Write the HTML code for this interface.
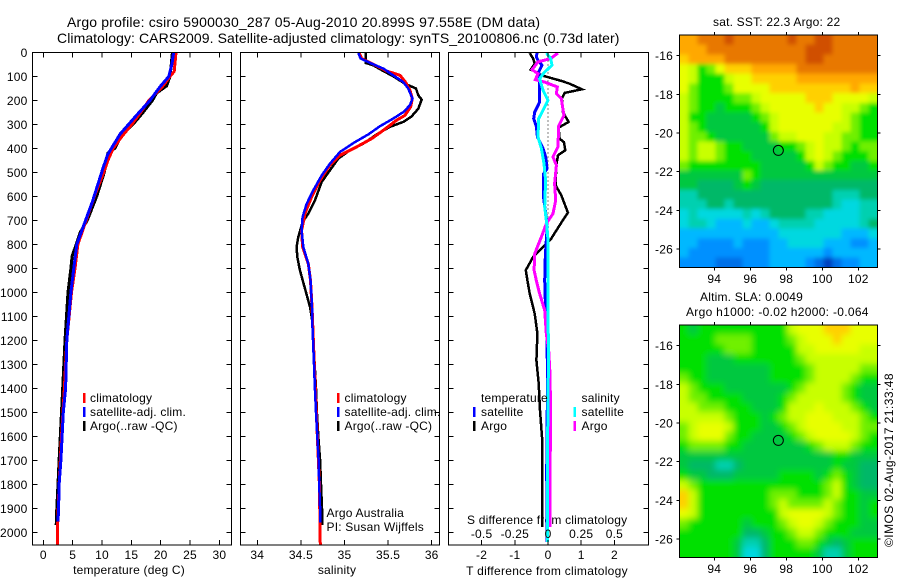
<!DOCTYPE html>
<html>
<head>
<meta charset="utf-8">
<title>Argo profile csiro 5900030_287</title>
<style>
html,body{margin:0;padding:0;background:#fff}
svg{display:block}
text{font-family:"Liberation Sans",sans-serif;font-size:12px;fill:#000;letter-spacing:.2px}
</style>
</head>
<body>
<svg id="chart" width="900" height="580" viewBox="0 0 900 580" xmlns="http://www.w3.org/2000/svg">
<defs>
<clipPath id="clip-sst"><rect x="679.3" y="35" width="198" height="232.3"/></clipPath>
<clipPath id="clip-sla"><rect x="679.3" y="325" width="198" height="232.3"/></clipPath>
<filter id="blur-sst" filterUnits="userSpaceOnUse" x="640" y="0" width="260" height="300"><feGaussianBlur stdDeviation="2"/></filter>
<filter id="blur-sla" filterUnits="userSpaceOnUse" x="640" y="290" width="260" height="300"><feGaussianBlur stdDeviation="3.2"/></filter>
</defs>
<text x="67" y="27" style="font-size:14px;letter-spacing:.17px">Argo profile: csiro 5900030_287 05-Aug-2010 20.899S 97.558E (DM data)</text>
<text x="57" y="43" style="font-size:14px;letter-spacing:.08px">Climatology: CARS2009. Satellite-adjusted climatology: synTS_20100806.nc (0.73d later)</text>

<text x="129" y="574" text-anchor="middle">temperature (deg C)</text>
<text x="337" y="574" text-anchor="middle">salinity</text>
<text x="547" y="575" text-anchor="middle" style="letter-spacing:.28px">T difference from climatology</text>
<text x="467" y="524">S difference from climatology</text>

<text x="713" y="26">sat. SST: 22.3 Argo: 22</text>
<text x="700" y="301">Altim. SLA: 0.0049</text>
<text x="686" y="316" style="letter-spacing:.3px">Argo h1000: -0.02 h2000: -0.064</text>
<text transform="translate(893,547) rotate(-90)" style="letter-spacing:.45px">©IMOS 02-Aug-2017 21:33:48</text>

<g id="layer"></g>

<g>
<rect x="83" y="393" width="2.5" height="10" fill="#ff0000"/><text x="90" y="402">climatology</text>
<rect x="83" y="407" width="2.5" height="10" fill="#0000ff"/><text x="90" y="416">satellite-adj. clim.</text>
<rect x="83" y="421" width="2.5" height="10" fill="#000000"/><text x="90" y="430">Argo(..raw -QC)</text>
</g>
<g>
<rect x="337" y="393" width="2.5" height="10" fill="#ff0000"/><text x="344.5" y="402">climatology</text>
<rect x="337" y="407" width="2.5" height="10" fill="#0000ff"/><text x="344.5" y="416">satellite-adj. clim.</text>
<rect x="337" y="421" width="2.5" height="10" fill="#000000"/><text x="344.5" y="430">Argo(..raw -QC)</text>
<text x="326.5" y="517">Argo Australia</text>
<text x="326.5" y="531">PI: Susan Wijffels</text>
</g>
<g>
<text x="481" y="402">temperature</text>
<rect x="473" y="407" width="2.5" height="10" fill="#0000ff"/><text x="481" y="416">satellite</text>
<rect x="473" y="421" width="2.5" height="10" fill="#000000"/><text x="481" y="430">Argo</text>
<text x="581.5" y="402">salinity</text>
<rect x="573.5" y="407" width="2.5" height="10" fill="#00ffff"/><text x="581.5" y="416">satellite</text>
<rect x="573.5" y="421" width="2.5" height="10" fill="#ff00ff"/><text x="581.5" y="430">Argo</text>
</g>
</svg>

<script>
// ---- profile data (depth in m, temperature in deg C, salinity in psu) ----
const tempBlueDepth = [0,50,100,143,200,270,340,424,480,550,620,700,800,900,1000,1200,1400,1500,1600,1700,1800,1900,1955];
const tempBlueValue = [22.2,21.9,21.4,19.9,18.2,15.6,13.1,11.0,10.2,9.3,8.4,7.2,5.7,5.2,4.7,4.0,3.8,3.4,3.2,3.0,2.7,2.6,2.5];
const tempRedDepth = [0,80,100,140,200,250,300,350,400,450,500,600,700,800,900,1000,1200,1400,1600,1800,2000,2055];
const tempRedValue = [22.6,22.3,21.6,20.4,18.0,16.6,15.1,13.4,11.9,11.0,10.3,8.7,7.3,5.9,5.4,4.8,4.0,3.6,3.1,2.7,2.4,2.4];
const tempArgoDepth = [0,50,100,140,170,200,250,300,350,400,420,500,600,700,750,800,850,900,1000,1200,1400,1500,1600,1700,1800,1900,1970];
const tempArgoValue = [22.0,21.8,21.6,21.0,19.3,18.6,17.0,15.3,13.2,12.2,11.0,10.4,9.1,7.5,6.3,5.6,4.9,4.7,4.2,3.7,3.3,3.1,2.9,2.7,2.5,2.3,2.2];

const salBlueDepth = [3,26,47,68,96,124,151,193,221,249,276,308,342,374,415,464,513,575,631,686,742,811,881,950,1061,1117,1300,1400,1500,1600,1700,1800,1900,1960];
const salBlueValue = [35.158,35.185,35.311,35.445,35.56,35.674,35.73,35.78,35.75,35.674,35.56,35.407,35.273,35.12,34.948,34.833,34.738,34.642,34.566,34.52,34.508,34.528,34.585,34.61,34.627,34.63,34.65,34.661,34.673,34.688,34.703,34.71,34.72,34.722];
const salRedDepth = [3,26,50,78,96,124,158,193,228,263,283,325,360,394,429,471,533,603,672,742,811,881,950,1061,1400,1800,2055];
const salRedValue = [35.17,35.196,35.33,35.483,35.636,35.70,35.75,35.778,35.758,35.693,35.598,35.445,35.311,35.139,34.948,34.833,34.719,34.623,34.547,34.508,34.52,34.585,34.61,34.627,34.665,34.712,34.722];
const salArgoDepth = [3,44,54,78,100,131,151,179,197,235,267,290,311,342,381,408,443,492,540,617,672,707,769,811,853,908,985,1061,1117,1400,1500,1600,1700,1800,1900,1970];
const salArgoValue = [35.242,35.242,35.33,35.445,35.56,35.693,35.82,35.846,35.885,35.846,35.77,35.674,35.52,35.368,35.216,35.063,34.929,34.833,34.738,34.661,34.585,34.52,34.47,34.451,34.459,34.489,34.547,34.604,34.63,34.673,34.684,34.70,34.72,34.73,34.742,34.742];

const dTArgoDepth = [3,26,47,72,82,96,119,131,154,169,193,249,290,314,360,374,408,429,471,554,596,668,721,776,811,853,908,950,1005,1089,1172,1283,1380,1492,1603,1742,1978];
const dTArgoValue = [-0.55,-0.45,-0.40,-0.52,-0.35,-0.20,0.40,0.65,1.02,0.50,0.42,0.45,0.62,0.32,0.35,0.48,0.52,0.30,0.25,0.23,0.40,0.60,0.35,0.10,-0.15,-0.45,-0.67,-0.62,-0.55,-0.40,-0.32,-0.35,-0.28,-0.24,-0.18,-0.18,-0.17];
const dTSatDepth = [3,19,33,54,82,131,207,249,276,311,353,401,436,485,506,610,672,728,783,853,950,1089,1172,1283,1472,1742,1978,2040];
const dTSatValue = [-0.33,-0.35,-0.30,-0.18,-0.28,-0.25,-0.25,-0.40,-0.43,-0.35,-0.32,-0.15,-0.07,-0.03,-0.13,-0.13,-0.07,-0.02,-0.05,-0.08,-0.10,-0.07,-0.04,-0.02,-0.02,-0.04,-0.03,-0.03];
const dSArgoDepth = [3,26,40,72,89,114,124,144,172,193,263,308,394,436,471,547,617,672,714,769,839,908,950,1005,1075,1172,1242,1339,1533,1742,1978];
const dSArgoValue = [0.075,0.02,-0.075,-0.12,-0.075,-0.095,-0.025,0.07,0.063,0.10,0.12,0.08,0.075,0.038,0.063,0.05,0.058,0.038,-0.013,-0.05,-0.10,-0.105,-0.088,-0.063,-0.025,-0.013,0.005,0.015,0.02,0.015,0.015];
const dSSatDepth = [3,26,54,82,110,158,200,242,276,353,401,464,533,644,714,783,950,1300,1742,2040];
const dSSatValue = [-0.013,0.02,0.03,-0.025,-0.063,-0.038,0,-0.038,-0.07,-0.075,-0.05,-0.03,-0.018,-0.025,-0.01,0,0,0.003,-0.005,-0.005];

// ---- tick labels ----
const depthTicks = [0,100,200,300,400,500,600,700,800,900,1000,1100,1200,1300,1400,1500,1600,1700,1800,1900,2000];
const tempTicks = [0,5,10,15,20,25,30];
const salTicks = [34,34.5,35,35.5,36];
const dTTicks = [-2,-1,0,1,2];
const dSTicks = [-0.5,-0.25,0,0.25,0.5];
const lonTicks = [94,96,98,100,102];
const latTicks = [-16,-18,-20,-22,-24,-26];
const floatLon = 97.558;
const floatLat = -20.899;

// ---- map data: colour-level per 0.5 deg cell, north to south ----
const levelColors = ['#0040c0','#0070e8','#0090ff','#00b8ff','#00d8e0','#00d0b0','#00b868','#00c840','#00e000','#70f000','#c8ff00','#e8ff00','#ffd000','#ffa800','#e87800','#d05000'];
const sstLevels = [
[13,13,14,14,14,15,14,14,14,14,14,14,15,14,14,15,15,14,14,14,14,14],
[13,13,13,14,14,14,14,14,14,14,14,14,14,14,15,15,15,14,14,14,14,14],
[12,13,13,13,13,14,14,14,14,14,14,14,14,14,15,15,14,14,14,14,14,14],
[11,10,8,9,11,12,12,12,13,13,13,13,13,14,14,14,14,14,14,14,14,14],
[11,10,8,8,8,10,11,11,12,12,12,12,12,13,13,13,13,13,13,13,13,13],
[11,9,8,8,8,9,11,11,11,11,12,12,12,12,12,12,12,12,12,13,12,12],
[10,9,8,8,8,8,9,9,10,11,11,11,11,11,12,12,12,11,11,11,11,10],
[10,9,8,8,7,8,8,8,9,10,11,11,11,11,11,12,11,11,10,10,9,8],
[10,8,8,7,7,7,7,7,8,9,10,11,11,11,11,11,11,11,10,9,8,8],
[10,9,8,7,7,7,7,7,7,8,10,11,11,11,11,11,11,10,10,9,8,8],
[10,9,9,8,7,7,7,7,7,7,9,10,10,11,11,11,10,10,9,9,8,8],
[10,9,10,10,9,8,8,7,7,7,7,8,8,9,10,11,10,10,9,8,9,9],
[10,9,10,10,9,8,8,8,7,7,7,7,7,8,10,11,10,9,8,8,8,9],
[9,8,8,8,8,8,8,8,8,7,7,7,7,7,8,10,9,8,8,7,7,8],
[7,7,7,7,7,7,7,9,8,7,7,7,7,7,7,7,7,7,7,7,7,7],
[7,7,6,6,6,6,7,8,7,6,6,6,6,6,6,6,6,6,6,6,6,6],
[5,5,6,6,6,6,6,6,6,6,6,6,6,6,6,6,6,5,5,5,6,6],
[5,5,5,6,6,5,6,6,6,6,6,6,6,6,6,6,6,5,4,4,5,5],
[4,5,4,4,4,4,4,5,4,5,6,6,6,6,5,5,4,4,4,4,5,5],
[4,5,5,4,3,3,3,4,3,3,4,5,5,5,5,4,4,4,4,4,5,6],
[3,3,3,3,3,3,3,3,3,3,3,4,4,4,4,4,4,4,3,3,3,4],
[3,3,2,2,2,2,3,2,2,2,3,3,4,4,4,4,3,3,3,2,2,3],
[3,2,2,2,2,2,2,2,2,2,3,3,3,3,3,3,2,3,3,3,3,3],
[2,2,2,2,1,1,1,2,2,2,3,3,3,3,2,1,0,1,2,2,3,3]
];
const slaLevels = [
[8,7,8,8,8,8,8,8,8,8,8,8,10,11,11,11,12,12,12,11,11,11],
[8,8,8,8,9,9,9,9,8,8,8,8,9,10,11,11,11,12,11,11,11,11],
[8,8,8,8,8,9,9,9,8,8,8,8,8,10,10,11,11,11,11,11,10,10],
[8,8,8,7,7,7,8,8,8,8,8,8,8,9,10,10,10,10,10,10,10,10],
[8,8,8,7,7,7,7,7,7,7,8,8,8,8,9,10,10,10,10,10,9,9],
[9,8,8,7,7,7,7,7,7,7,8,8,8,8,9,10,10,10,10,9,8,8],
[10,9,8,8,8,7,7,7,7,7,7,7,8,9,10,10,10,10,9,8,7,7],
[10,9,9,8,8,8,8,7,7,7,7,8,9,10,10,10,10,10,9,8,7,7],
[10,10,9,9,9,8,8,8,7,7,7,8,10,10,10,11,10,10,10,9,8,7],
[10,10,10,10,10,9,8,8,8,7,8,9,10,10,11,11,11,10,10,10,9,8],
[9,10,11,11,11,10,8,8,8,7,7,8,9,10,11,11,11,11,10,10,9,9],
[9,10,11,11,11,9,8,8,7,7,7,7,8,9,10,11,11,11,11,10,9,8],
[8,9,9,9,9,8,8,7,7,7,7,7,7,7,8,9,10,10,10,9,8,8],
[7,7,7,7,7,7,7,7,7,7,7,7,7,7,7,7,7,8,8,7,7,7],
[7,6,6,6,5,5,6,7,7,7,7,7,7,7,7,7,7,8,7,7,6,6],
[8,7,7,6,6,6,7,7,7,7,7,8,8,8,8,7,8,9,8,7,6,6],
[10,9,8,8,8,8,8,8,8,8,8,8,8,8,8,8,9,10,8,7,6,6],
[12,10,8,8,8,8,8,8,8,8,9,9,9,8,8,8,9,10,8,8,7,7],
[12,10,8,8,8,8,8,8,8,8,9,10,9,9,9,9,10,9,8,8,7,8],
[11,10,8,8,8,8,8,8,8,8,8,10,11,11,11,11,10,9,8,8,7,8],
[9,8,8,8,8,8,8,7,8,8,8,9,10,11,11,10,9,8,8,8,7,7],
[8,8,8,8,8,8,8,6,6,7,8,8,9,10,10,9,8,8,8,7,7,7],
[8,8,8,8,8,8,7,5,5,6,8,8,8,9,9,8,7,6,7,8,8,8],
[8,8,8,8,8,8,7,4,4,6,8,8,8,8,8,7,5,5,7,8,8,8]
];

// ---- geometry & axis functions ----
const NS = 'http://www.w3.org/2000/svg';
const layer = document.getElementById('layer');
const PT = 52.3, PB = 545;
const yDepth = d => PT + d * 0.24;
const xTemp = v => 43.3 + v * 5.87;
const xSal = v => 257.3 + (v - 34) * 87.2;
const xDT = v => 548 + v * 33.2;
const xDS = v => 548 + v * 132.8;
const MAP_L = 679.3, MAP_R = 877.3;
const xLon = v => 714.3 + (v - 94) * 18;
const ySst = v => 55.7 + (-16 - v) * 19.33;
const ySla = v => 345.7 + (-16 - v) * 19.33;

function make(tag, attrs, parent) {
  const el = document.createElementNS(NS, tag);
  for (const k in attrs) el.setAttribute(k, attrs[k]);
  (parent || layer).appendChild(el);
  return el;
}
function label(txt, x, y, anchor, name, parent) {
  const t = make('text', {x: x, y: y, 'text-anchor': anchor}, parent);
  
  
  t.textContent = txt;
  return t;
}
function tick(x1, y1, x2, y2, name, parent) {
  const l = make('line', {x1: x1, y1: y1, x2: x2, y2: y2, stroke: '#000', 'stroke-width': 1, 'shape-rendering': 'crispEdges'}, parent);
  
  
}
function frame(x, y, w, h, name) {
  const r = make('rect', {x: x, y: y, width: w, height: h, fill: 'none', stroke: '#000', 'stroke-width': 1, 'shape-rendering': 'crispEdges'});
  
  
}
function profile(depths, values, xf, color, width, name) {
  const pts = depths.map((d, i) => xf(values[i]).toFixed(1) + ',' + yDepth(d).toFixed(1)).join(' ');
  const p = make('polyline', {points: pts, fill: 'none', stroke: color, 'stroke-width': width, 'stroke-linejoin': 'miter', 'shape-rendering': 'crispEdges'});
  
  
}
function profileAxes(left, right, xf, ticks, showDepthLabels, prefix) {
  depthTicks.forEach(d => {
    tick(left, yDepth(d), left + 5, yDepth(d), prefix + '-y-tick');
    tick(right, yDepth(d), right - 5, yDepth(d), prefix + '-y-tick');
    if (showDepthLabels) label(String(d), 27.5, yDepth(d) + 4.5, 'end', 'depth-tick-label');
  });
  ticks.forEach(v => {
    tick(xf(v), PT, xf(v), PT + 5, prefix + '-x-tick');
    tick(xf(v), PB, xf(v), PB - 5, prefix + '-x-tick');
    label(String(v), xf(v), 559, 'middle', prefix + '-x-tick-label');
  });
  frame(left, PT, right - left, PB - PT, prefix + '-panel-frame');
}

// ---- temperature panel ----
profile(tempArgoDepth, tempArgoValue, xTemp, '#000000', 3, 'temperature-argo-line');
profile(tempRedDepth, tempRedValue, xTemp, '#ff0000', 3, 'temperature-climatology-line');
profile(tempBlueDepth, tempBlueValue, xTemp, '#0000ff', 3, 'temperature-satellite-line');
profileAxes(32.3, 231.3, xTemp, tempTicks, true, 'temperature');

// ---- salinity panel ----
profile(salArgoDepth, salArgoValue, xSal, '#000000', 2.5, 'salinity-argo-line');
profile(salRedDepth, salRedValue, xSal, '#ff0000', 3, 'salinity-climatology-line');
profile(salBlueDepth, salBlueValue, xSal, '#0000ff', 2.5, 'salinity-satellite-line');
profileAxes(240.3, 439.3, xSal, salTicks, false, 'salinity');

// ---- difference panel ----
const zeroLine = make('line', {x1: xDT(0), y1: PT, x2: xDT(0), y2: PB, stroke: '#000', 'stroke-width': 1, 'stroke-dasharray': '1 3', 'shape-rendering': 'crispEdges'});


profile(dTArgoDepth, dTArgoValue, xDT, '#000000', 2.5, 'difference-t-argo-line');
profile(dTSatDepth, dTSatValue, xDT, '#0000ff', 3, 'difference-t-satellite-line');
profile(dSArgoDepth, dSArgoValue, xDS, '#ff00ff', 3, 'difference-s-argo-line');
profile(dSSatDepth, dSSatValue, xDS, '#00ffff', 3, 'difference-s-satellite-line');
profileAxes(448.5, 648.3, xDT, dTTicks, false, 'difference');
dSTicks.forEach(v => label(String(v), xDS(v), 538, 'middle', 's-difference-tick-label'));

// ---- maps ----
function heatmap(levels, top, bottom, yf, prefix) {
  const clip = make('g', {'clip-path': 'url(#clip-' + prefix + ')'});
  const g = make('g', {filter: 'url(#blur-' + prefix + ')', 'shape-rendering': 'crispEdges'}, clip);
  
  
  const nr = levels.length, nc = levels[0].length;
  const cw = (MAP_R - MAP_L) / nc, ch = (bottom - top) / nr;
  const pad = 16; // outer cells run past the frame so the smoothing keeps edge colours
  levels.forEach((row, r) => row.forEach((lv, c) => {
    const x0 = MAP_L + c * cw - (c === 0 ? pad : 0);
    const x1 = MAP_L + (c + 1) * cw + (c === nc - 1 ? pad : 0.6);
    const y0 = top + r * ch - (r === 0 ? pad : 0);
    const y1 = top + (r + 1) * ch + (r === nr - 1 ? pad : 0.6);
    const cell = make('rect', {x: x0.toFixed(2), y: y0.toFixed(2), width: (x1 - x0).toFixed(2), height: (y1 - y0).toFixed(2), fill: levelColors[lv]}, g);
    
    
  }));
  lonTicks.forEach(v => {
    tick(xLon(v), top, xLon(v), top - 3, prefix + '-lon-tick');
    tick(xLon(v), bottom, xLon(v), bottom + 3, prefix + '-lon-tick');
    label(String(v), xLon(v), bottom + 15.5, 'middle', prefix + '-lon-tick-label');
  });
  latTicks.forEach(v => {
    tick(MAP_L, yf(v), MAP_L - 3, yf(v), prefix + '-lat-tick');
    tick(MAP_R, yf(v), MAP_R + 3, yf(v), prefix + '-lat-tick');
    label(String(v), 673, yf(v) + 4.5, 'end', prefix + '-lat-tick-label');
  });
  frame(MAP_L, top, MAP_R - MAP_L, bottom - top, prefix + '-map-frame');
  const c = make('circle', {cx: xLon(floatLon), cy: yf(floatLat), r: 5, fill: 'none', stroke: '#000', 'stroke-width': 1});
  
  
}
heatmap(sstLevels, 35, 267.3, ySst, 'sst');
heatmap(slaLevels, 325, 557.3, ySla, 'sla');
</script>
</body>
</html>
